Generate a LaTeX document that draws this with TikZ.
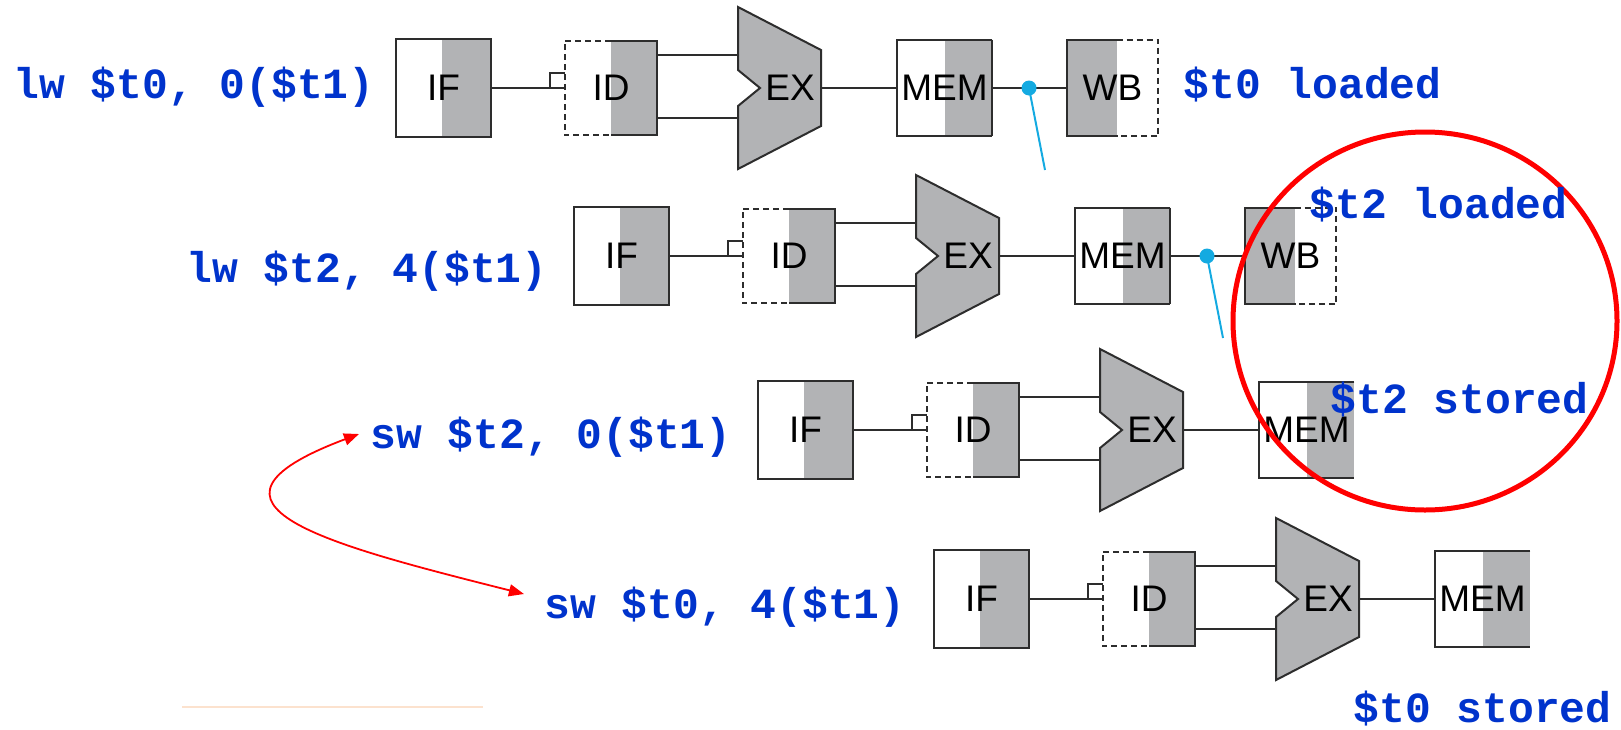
\documentclass[tikz,border=0pt]{standalone}
\usepackage{fontspec}
\setsansfont{Liberation Sans}
\setmonofont{Liberation Mono}
\usetikzlibrary{arrows.meta}
\definecolor{stagegrey}{RGB}{178,179,181}
\definecolor{wirecol}{RGB}{45,45,45}
\definecolor{instrblue}{RGB}{0,51,204}
\definecolor{tapcyan}{RGB}{20,170,225}
\definecolor{faintorange}{RGB}{252,226,206}

\tikzset{
  stagetext/.style={font=\sffamily\fontsize{18.5}{20}\selectfont},
  stage/.style={stagetext, inner sep=0pt, minimum width=47.5pt, minimum height=48pt},
  greyright/.style={path picture={\fill[stagegrey] ([xshift=#1]path picture bounding box.north) rectangle (path picture bounding box.south east);}},
  greyright/.default=0pt,
  greyleft/.style={path picture={\fill[stagegrey] (path picture bounding box.north west) rectangle ([xshift=#1]path picture bounding box.south);}},
  greyleft/.default=0pt,
  wire/.style={draw=wirecol, line width=1pt},
  halfdash/.style={wire, dash pattern=on 3pt off 2pt},
  instr/.style={inner sep=0pt, text=instrblue, font=\ttfamily\bfseries\fontsize{21.5}{24}\selectfont},
  tapdot/.style={circle, fill=tapcyan, inner sep=0pt, minimum size=7.5pt},
  tapline/.style={draw=tapcyan, line width=1pt},
}

\begin{document}
\begin{tikzpicture}[x=0.5pt, y=-0.5pt, >={Triangle[length=7.5pt,width=6pt]}]
\useasboundingbox (0,0) rectangle (1621,729);

\foreach \r/\x/\y in {1/395/39,2/573/207,3/757/381,4/933/550}{
  \begin{scope}[shift={(\x,\y)}]
    \node[stage, wire, minimum height=49pt, greyright=-1pt] (if\r) at (48.5,49) {IF};
    \node[stage, minimum width=46pt, minimum height=47pt, greyright] (id\r) at (216,49) {ID};
    \draw[halfdash] (id\r.north) -- (id\r.north west) -- (id\r.south west) -- (id\r.south);
    \draw[wire] (id\r.north) -- (id\r.north east) -- (id\r.south east) -- (id\r.south);
    \draw[wire] (if\r.east) -- (id\r.west);
    \draw[wire] (id\r.west |- 0,34) -| (155,49);
    \filldraw[wire, fill=stagegrey] (343,-32) -- (426,11) -- (426,87) -- (343,130)
      -- (343,67) -- (365,49) -- (343,31) -- cycle;
    \node[stagetext] (ex\r) at (395,49) {EX};
    \coordinate (exa\r) at (343,16);
    \coordinate (exb\r) at (343,79);
    \coordinate (exo\r) at (426,49);
    \draw[wire] (id\r.east |- exa\r) -- (exa\r);
    \draw[wire] (id\r.east |- exb\r) -- (exb\r);
    \node[stage, greyright] (mem\r) at (549.5,49) {MEM};
    \draw[wire] (mem\r.north east) -- (mem\r.north west) -- (mem\r.south west) -- (mem\r.south east);
    \draw[wire] (exo\r) -- (mem\r.west);
  \end{scope}
}

\foreach \r/\x/\y in {1/395/39,2/573/207}{
  \begin{scope}[shift={(\x,\y)}]
    \node[stage, minimum width=45.5pt, greyleft=2pt] (wb\r) at (717.5,49) {WB};
    \draw[wire] (mem\r.north east) -- (mem\r.south east);
    \draw[wire] ([xshift=2pt]wb\r.north) -- (wb\r.north west) -- (wb\r.south west) -- ([xshift=2pt]wb\r.south);
    \draw[halfdash] ([xshift=2pt]wb\r.north) -- (wb\r.north east) -- (wb\r.south east) -- ([xshift=2pt]wb\r.south);
    \draw[wire] (mem\r.east) -- (wb\r.west);
    \coordinate (tap\r) at (650,131);
    \node[tapdot] (dot\r) at (634,49) {};
    \draw[tapline] (dot\r.center) -- (tap\r);
  \end{scope}
}

\draw[red, line width=2.5pt] (1425,321) ellipse [x radius=96pt, y radius=94.5pt];
\draw[faintorange, line width=0.8pt] (182,707) -- (483,707);

\node[instr, anchor=base east] (lwA) at (375,98) {lw \$t0, 0(\$t1)};
\node[instr, anchor=base east] (lwB) at (548,282) {lw \$t2, 4(\$t1)};
\node[instr, anchor=base east] (swA) at (732,448) {sw \$t2, 0(\$t1)};
\node[instr, anchor=base east] (swB) at (906,618) {sw \$t0, 4(\$t1)};
\node[instr, anchor=base west] (doneA) at (1183,98) {\$t0 loaded};
\node[instr, anchor=base west] (doneB) at (1309,218) {\$t2 loaded};
\node[instr, anchor=base west] (doneC) at (1330,413) {\$t2 stored};
\node[instr, anchor=base west] (doneD) at (1353,722) {\$t0 stored};

\draw[red, line width=0.9pt, <->] ([shift={(-5.5pt,7pt)}]swA.base west)
  .. controls (170,505) and (330,545) .. ([shift={(-10pt,12pt)}]swB.base west);
\end{tikzpicture}
\end{document}
